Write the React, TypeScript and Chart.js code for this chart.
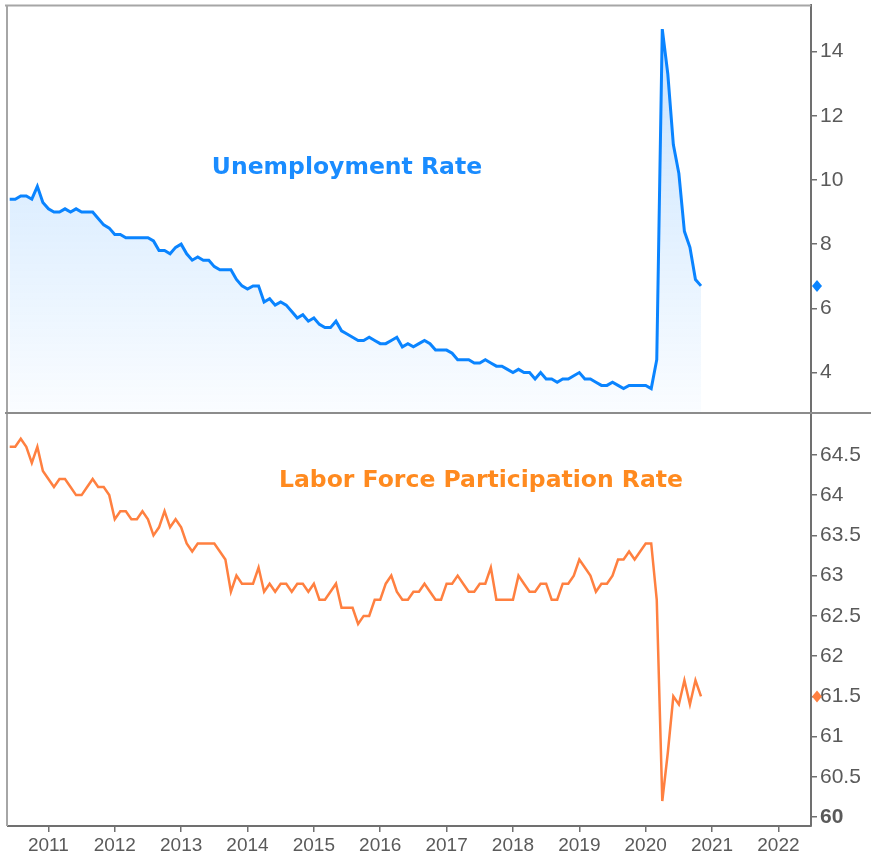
import React, { useEffect, useRef } from 'react';
import { Chart, registerables } from 'chart.js';

Chart.register(...registerables);

// Monthly data, June 2010 – November 2020
const startYear = 2010;
const startMonth = 6;

const unemploymentRate = [
  9.4, 9.4, 9.5, 9.5, 9.4, 9.8, 9.3,
  9.1, 9.0, 9.0, 9.1, 9.0, 9.1, 9.0, 9.0, 9.0, 8.8, 8.6, 8.5,
  8.3, 8.3, 8.2, 8.2, 8.2, 8.2, 8.2, 8.1, 7.8, 7.8, 7.7, 7.9,
  8.0, 7.7, 7.5, 7.6, 7.5, 7.5, 7.3, 7.2, 7.2, 7.2, 6.9, 6.7,
  6.6, 6.7, 6.7, 6.2, 6.3, 6.1, 6.2, 6.1, 5.9, 5.7, 5.8, 5.6,
  5.7, 5.5, 5.4, 5.4, 5.6, 5.3, 5.2, 5.1, 5.0, 5.0, 5.1, 5.0,
  4.9, 4.9, 5.0, 5.1, 4.8, 4.9, 4.8, 4.9, 5.0, 4.9, 4.7, 4.7,
  4.7, 4.6, 4.4, 4.4, 4.4, 4.3, 4.3, 4.4, 4.3, 4.2, 4.2, 4.1,
  4.0, 4.1, 4.0, 4.0, 3.8, 4.0, 3.8, 3.8, 3.7, 3.8, 3.8, 3.9,
  4.0, 3.8, 3.8, 3.7, 3.6, 3.6, 3.7, 3.6, 3.5, 3.6, 3.6, 3.6,
  3.6, 3.5, 4.4, 14.7, 13.3, 11.1, 10.2, 8.4, 7.9, 6.9, 6.7,
];

const participationRate = [
  64.6, 64.6, 64.7, 64.6, 64.4, 64.6, 64.3,
  64.2, 64.1, 64.2, 64.2, 64.1, 64.0, 64.0, 64.1, 64.2, 64.1, 64.1, 64.0,
  63.7, 63.8, 63.8, 63.7, 63.7, 63.8, 63.7, 63.5, 63.6, 63.8, 63.6, 63.7,
  63.6, 63.4, 63.3, 63.4, 63.4, 63.4, 63.4, 63.3, 63.2, 62.8, 63.0, 62.9,
  62.9, 62.9, 63.1, 62.8, 62.9, 62.8, 62.9, 62.9, 62.8, 62.9, 62.9, 62.8,
  62.9, 62.7, 62.7, 62.8, 62.9, 62.6, 62.6, 62.6, 62.4, 62.5, 62.5, 62.7,
  62.7, 62.9, 63.0, 62.8, 62.7, 62.7, 62.8, 62.8, 62.9, 62.8, 62.7, 62.7,
  62.9, 62.9, 63.0, 62.9, 62.8, 62.8, 62.9, 62.9, 63.1, 62.7, 62.7, 62.7,
  62.7, 63.0, 62.9, 62.8, 62.8, 62.9, 62.9, 62.7, 62.7, 62.9, 62.9, 63.0,
  63.2, 63.1, 63.0, 62.8, 62.9, 62.9, 63.0, 63.2, 63.2, 63.3, 63.2, 63.3,
  63.4, 63.4, 62.7, 60.2, 60.8, 61.5, 61.4, 61.7, 61.4, 61.7, 61.5,
];

const yearTicks = [2011, 2012, 2013, 2014, 2015, 2016, 2017, 2018, 2019, 2020, 2021, 2022];
const unemploymentTicks = [4, 6, 8, 10, 12, 14];
const participationTicks = [60, 60.5, 61, 61.5, 62, 62.5, 63, 63.5, 64, 64.5];

const unemploymentTitle = 'Unemployment Rate';
const participationTitle = 'Labor Force Participation Rate';

const BLUE = '#0a84ff';
const ORANGE = '#ff8040';
const AXIS = '#707070';
const LABEL = '#5a5a5a';
const FONT = "'Liberation Sans', Arial, sans-serif";

const monthX = (i: number) => startYear + (startMonth - 1 + i) / 12;

export default function App() {
  const ref = useRef<HTMLCanvasElement | null>(null);

  useEffect(() => {
    document.body.style.margin = '0';
    const canvas = ref.current;
    if (!canvas) return;

    const framePlugin = {
      id: 'frame',
      afterDraw(chart: any) {
        const { ctx, chartArea } = chart;
        const yU = chart.scales.yU;
        const yL = chart.scales.yL;
        ctx.save();
        ctx.strokeStyle = '#a6a6a6';
        ctx.lineWidth = 2;
        ctx.beginPath();
        ctx.moveTo(chartArea.left - 3, chartArea.top + 0.5);
        ctx.lineTo(chartArea.right, chartArea.top + 0.5);
        ctx.moveTo(chartArea.left - 1, chartArea.top);
        ctx.lineTo(chartArea.left - 1, chartArea.bottom);
        ctx.stroke();
        ctx.strokeStyle = '#8c8c8c';
        ctx.beginPath();
        ctx.moveTo(chartArea.left - 3, yU.bottom);
        ctx.lineTo(chart.width, yU.bottom);
        ctx.stroke();

        // titles
        ctx.textAlign = 'center';
        ctx.textBaseline = 'middle';
        ctx.font = "bold 23.5px 'DejaVu Sans', Verdana, sans-serif";
        ctx.fillStyle = '#1a8cff';
        ctx.fillText(unemploymentTitle, chartArea.left + 339, yU.top + 163);
        ctx.fillStyle = '#ff8a1f';
        ctx.fillText(participationTitle, chartArea.left + 473, yL.top + 68);

        // last-value diamonds on the axes
        const diamond = (scale: any, value: number, color: string) => {
          const x = scale.left + 6;
          const y = scale.getPixelForValue(value);
          ctx.fillStyle = color;
          ctx.beginPath();
          ctx.moveTo(x, y - 6);
          ctx.lineTo(x + 5, y);
          ctx.lineTo(x, y + 6);
          ctx.lineTo(x - 5, y);
          ctx.closePath();
          ctx.fill();
        };
        diamond(yU, unemploymentRate[unemploymentRate.length - 1], BLUE);
        diamond(yL, participationRate[participationRate.length - 1], ORANGE);
        ctx.restore();
      },
    };

    const yCommon = (ticksList: number[]) => ({
      type: 'linear',
      position: 'right',
      stack: 'panels',
      afterBuildTicks: (s: any) => {
        s.ticks = ticksList.map((v) => ({ value: v }));
      },
      afterFit: (s: any) => {
        s.width = 60;
        s.paddingTop = 0;
        s.paddingBottom = 0;
      },
      grid: {
        display: true,
        drawOnChartArea: false,
        drawTicks: true,
        tickLength: 6,
        color: AXIS,
        lineWidth: 1.5,
      },
      border: { display: true, color: AXIS, width: 2 },
      ticks: {
        color: LABEL,
        padding: 3,
        autoSkip: false,
        font: (c: any) => ({
          family: FONT,
          size: 21,
          weight: c.tick && c.tick.value === 60 ? 'bold' : 'normal',
        }),
        callback: (v: any) => String(v),
      },
    });

    const chart = new Chart(canvas, {
      type: 'line',
      data: {
        datasets: [
          {
            label: unemploymentTitle,
            data: unemploymentRate.map((v, i) => ({ x: monthX(i), y: v })),
            yAxisID: 'yU',
            borderColor: BLUE,
            borderWidth: 3,
            pointRadius: 0,
            tension: 0,
            fill: 'start',
            backgroundColor: (c: any) => {
              const ch = c.chart;
              const s = ch.scales.yU;
              if (!ch.chartArea || !s) return 'rgba(10,132,255,0.12)';
              const g = ch.ctx.createLinearGradient(0, s.top, 0, s.bottom);
              g.addColorStop(0, 'rgba(10,132,255,0.24)');
              g.addColorStop(1, 'rgba(10,132,255,0.02)');
              return g;
            },
          },
          {
            label: participationTitle,
            data: participationRate.map((v, i) => ({ x: monthX(i), y: v })),
            yAxisID: 'yL',
            borderColor: ORANGE,
            borderWidth: 2.5,
            pointRadius: 0,
            tension: 0,
            fill: false,
          },
        ],
      },
      options: {
        animation: false,
        responsive: false,
        maintainAspectRatio: false,
        layout: { padding: { left: 8, top: 5, right: 0, bottom: 0 } },
        plugins: {
          legend: { display: false },
          tooltip: { enabled: false },
          title: { display: false },
        },
        scales: {
          x: {
            type: 'linear',
            min: 2010.391,
            max: 2022.491,
            afterBuildTicks: (s: any) => {
              s.ticks = yearTicks.map((v) => ({ value: v }));
            },
            afterFit: (s: any) => {
              s.height = 37;
              s.paddingLeft = 0;
              s.paddingRight = 0;
            },
            grid: {
              display: true,
              drawOnChartArea: false,
              drawTicks: true,
              tickLength: 6,
              color: AXIS,
              lineWidth: 1.5,
            },
            border: { display: true, color: AXIS, width: 2 },
            ticks: {
              color: LABEL,
              padding: 2,
              maxRotation: 0,
              autoSkip: false,
              font: { family: FONT, size: 19 },
              callback: (v: any) => String(v),
            },
          },
          yU: { ...yCommon(unemploymentTicks), min: 2.74, max: 15.45, stackWeight: 408 },
          yL: { ...yCommon(participationTicks), min: 59.89, max: 65.02, stackWeight: 413 },
        } as any,
      },
      plugins: [framePlugin],
    } as any);

    return () => chart.destroy();
  }, []);

  return (
    <div style={{ width: 871, height: 863, background: '#fff' }}>
      <canvas ref={ref} width={871} height={863} style={{ display: 'block' }} />
    </div>
  );
}
